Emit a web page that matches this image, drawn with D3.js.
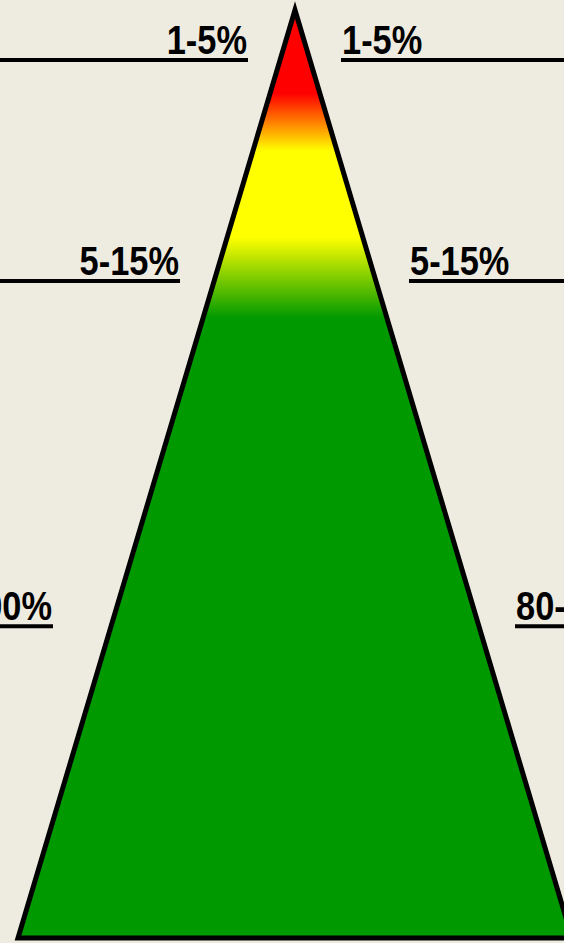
<!DOCTYPE html>
<html>
<head>
<meta charset="utf-8">
<script src="https://cdn.jsdelivr.net/npm/d3@7"></script>
<style>
  html, body { margin: 0; padding: 0; background: #eeebe1; overflow: hidden; }
  text { font-family: "Liberation Sans Narrow", "Liberation Sans", Arial, sans-serif; font-weight: bold; }
</style>
</head>
<body>
<script>
// pyramid tiers, top to bottom
var tierLabels = ["1-5%", "5-15%", "80-100%"];
// gradient colours down the pyramid (share of height from apex)
var stopOffsets = [0, 0.09, 0.152, 0.245, 0.332, 1];
var stopColors  = ["#ff0000", "#ff0000", "#ffff00", "#ffff00", "#009900", "#009900"];

var width = 564,
    height = 943;

var svg = d3.select("body").append("svg")
    .attr("width", width)
    .attr("height", height);

// fraction from apex -> y
var y = d3.scaleLinear().domain([0, 1]).range([10, 938]);
var apexX = 295, halfBase = 277;

var grad = svg.append("defs").append("linearGradient")
    .attr("id", "pyr")
    .attr("x1", 0).attr("y1", 0).attr("x2", 0).attr("y2", 1);
grad.selectAll("stop")
    .data(stopOffsets)
  .enter().append("stop")
    .attr("offset", function(d) { return d; })
    .attr("stop-color", function(d, i) { return stopColors[i]; });

svg.append("path")
    .attr("d", d3.line()([[apexX, y(0)], [apexX - halfBase, y(1)], [apexX + halfBase, y(1)]]) + "Z")
    .attr("fill", "url(#pyr)")
    .attr("stroke", "#000")
    .attr("stroke-width", 5)
    .attr("stroke-linejoin", "miter");

// label layout (line y as share from apex, inner ends of the rules)
var tierPos = [0.054, 0.292, 0.664];
var leftEnd = [248, 180, 53],
    rightStart = [341, 409, 515];
var squeeze = 0.86; // narrow face look

tierLabels.forEach(function(t, i) {
  var ly = y(tierPos[i]);
  svg.append("line")
      .attr("x1", 0).attr("x2", leftEnd[i])
      .attr("y1", ly).attr("y2", ly)
      .attr("stroke", "#000").attr("stroke-width", 4);
  svg.append("line")
      .attr("x1", rightStart[i]).attr("x2", width)
      .attr("y1", ly).attr("y2", ly)
      .attr("stroke", "#000").attr("stroke-width", 4);
  svg.append("text")
      .attr("transform", "translate(" + (leftEnd[i] - 1) + "," + (ly - 6) + ") scale(" + squeeze + ",1)")
      .attr("text-anchor", "end")
      .attr("font-size", 40)
      .text(t);
  svg.append("text")
      .attr("transform", "translate(" + (rightStart[i] + 1) + "," + (ly - 6) + ") scale(" + squeeze + ",1)")
      .attr("font-size", 40)
      .text(t);
});
</script>
</body>
</html>
